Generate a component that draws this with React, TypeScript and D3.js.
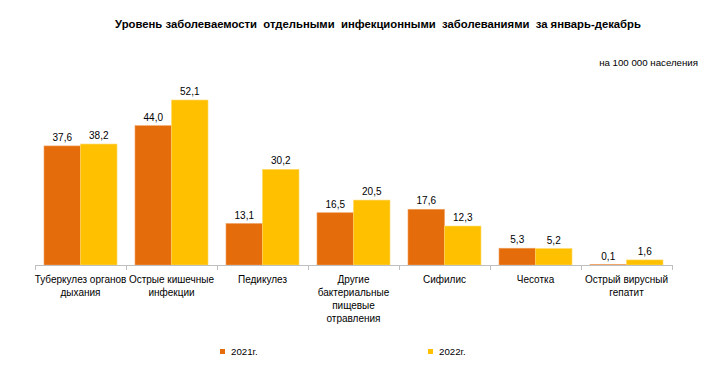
import React from "react";
import * as d3 from "d3";

const categories = [
  ["Туберкулез органов", "дыхания"],
  ["Острые кишечные", "инфекции"],
  ["Педикулез"],
  ["Другие", "бактериальные", "пищевые", "отравления"],
  ["Сифилис"],
  ["Чесотка"],
  ["Острый вирусный", "гепатит"],
];
const series = ["2021г.", "2022г."];
const values2021 = [37.6, 44.0, 13.1, 16.5, 17.6, 5.3, 0.1];
const values2022 = [38.2, 52.1, 30.2, 20.5, 12.3, 5.2, 1.6];
const colors = ["#E46C0A", "#FFC000"];
const edgeColors = ["#F0A060", "#FFD966"];
const title = "Уровень заболеваемости  отдельными  инфекционными  заболеваниями  за январь-декабрь";
const unit = "на 100 000 населения";

const fmt = (v: number) => v.toFixed(1).replace(".", ",");

export default function App() {
  const W = 715, H = 376;
  const font = "'Liberation Sans', Arial, sans-serif";
  const idx = categories.map((_, i) => String(i));
  const x = d3.scaleBand<string>().domain(idx).range([35, 672]).paddingInner(0).paddingOuter(0);
  const bw = x.bandwidth();
  const xs = d3.scaleBand<string>().domain(series).range([9, bw - 9]).padding(0);
  const y = d3.scaleLinear().domain([0, 60]).range([265, 75]);
  const data = [values2021, values2022];
  return (
    <svg width={W} height={H} style={{ position: "absolute", left: 0, top: 0, fontFamily: font }}>
      <rect width={W} height={H} fill="#fff" />
      <text x={378} y={28} textAnchor="middle" fontSize={11.3} fontWeight="bold" fill="#000" style={{ whiteSpace: "pre" }}>
        {title}
      </text>
      <text x={698} y={66} textAnchor="end" fontSize={9.7} fill="#000">{unit}</text>
      {data.map((vals, s) =>
        vals.map((v, i) => {
          const bx = (x(String(i)) as number) + (xs(series[s]) as number);
          const bwid = xs.bandwidth();
          return (
            <g key={`${s}-${i}`}>
              <rect x={bx} y={y(v)} width={bwid} height={y(0) - y(v)} fill={colors[s]} stroke={edgeColors[s]} strokeWidth={0.6} />
              <text x={bx + bwid / 2} y={y(v) - 5} textAnchor="middle" fontSize={10} fill="#000">{fmt(v)}</text>
            </g>
          );
        })
      )}
      <line x1={35} x2={672} y1={265.5} y2={265.5} stroke="#BFBFBF" strokeWidth={1} />
      {d3.range(categories.length + 1).map((i) => {
        const tx = Math.round(35 + i * bw) + 0.5;
        return <line key={i} x1={tx} x2={tx} y1={265} y2={270} stroke="#BFBFBF" />;
      })}
      {categories.map((lines, i) => (
        <text key={i} textAnchor="middle" fontSize={10} fill="#000">
          {lines.map((ln, j) => (
            <tspan key={j} x={(x(String(i)) as number) + bw / 2} y={283 + j * 13}>{ln}</tspan>
          ))}
        </text>
      ))}
      {series.map((s, k) => {
        const lx = [220, 428][k];
        return (
          <g key={s}>
            <rect x={lx} y={349} width={5} height={5} fill={colors[k]} />
            <text x={lx + 11} y={355} fontSize={9.7} fill="#000">{s}</text>
          </g>
        );
      })}
    </svg>
  );
}
